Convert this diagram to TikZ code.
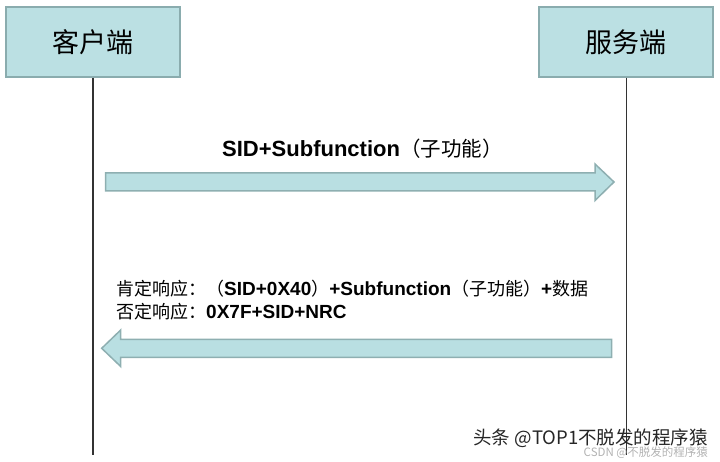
\documentclass[tikz,border=0pt]{standalone}
\usepackage{fontspec}
\setmainfont{Liberation Sans}
\newfontfamily\cjk{Noto Sans CJK SC}
\definecolor{boxfill}{HTML}{BBE0E3}
\definecolor{boxline}{HTML}{8AACAE}
\definecolor{arrfill}{HTML}{B9DFE2}
\definecolor{arrline}{HTML}{8EAFB1}
\definecolor{lifecol}{HTML}{333333}
\tikzset{
  actorbox/.style={draw=boxline, fill=boxfill, line width=1.2pt, minimum width=174pt, minimum height=70pt, inner sep=0pt, font=\cjk\fontsize{27}{27}\selectfont},
  lifeline/.style={draw=lifecol, line width=1.8pt},
  blockarrow/.style={draw=arrline, fill=arrfill, line width=1.5pt, line join=miter},
  msglabel/.style={inner sep=0pt, anchor=base west},
}
\newcommand{\cj}[2]{{\cjk\mdseries\fontsize{#1}{#1}\selectfont #2}}
\begin{document}
\begin{tikzpicture}[x=1pt,y=-1pt]
\useasboundingbox (0,0) rectangle (720,462);
\node[actorbox] (client) at (93,42) {客户端};
\node[actorbox] (server) at (626,42) {服务端};
\coordinate (clientEnd) at (93,455);
\coordinate (serverEnd) at (626.5,455);
\draw[lifeline] (client.south) -- (clientEnd);
\draw[lifeline] (server.south -| serverEnd) -- (serverEnd);
% request arrow
\draw[blockarrow] (105.7,173) -- (595,173) -- (595,164) -- (614,182) -- (595,200.5) -- (595,191) -- (105.7,191) -- cycle;
% response arrow
\draw[blockarrow] (611.7,339.3) -- (120.7,339.3) -- (120.7,330) -- (101.7,348.3) -- (120.7,366.5) -- (120.7,357.3) -- (611.7,357.3) -- cycle;
\node[msglabel] (req) at (222,157) {\fontsize{22}{22}\selectfont\bfseries SID+Subfunction\cj{20.5}{（子功能）}};
\node[msglabel] (pos) at (116,296) {\fontsize{19}{19}\selectfont\bfseries \cj{18}{肯定响应：（}SID+0X40\cj{18}{）}+Subfunction\cj{18}{（子功能）}+\cj{18}{数据}};
\node[msglabel] (neg) at (116,318) {\fontsize{19}{19}\selectfont\bfseries \cj{18}{否定响应：}0X7F+SID+NRC};
\node[inner sep=0pt, anchor=base east, font=\cjk\fontsize{18.5}{18.5}\selectfont, text=black!85] (wm1) at (708,444) {头条 @TOP1不脱发的程序猿};
\node[inner sep=0pt, anchor=base east, font=\cjk\fontsize{11.5}{11.5}\selectfont, text=black!30] (wm2) at (708,456) {CSDN @不脱发的程序猿};
\end{tikzpicture}
\end{document}
